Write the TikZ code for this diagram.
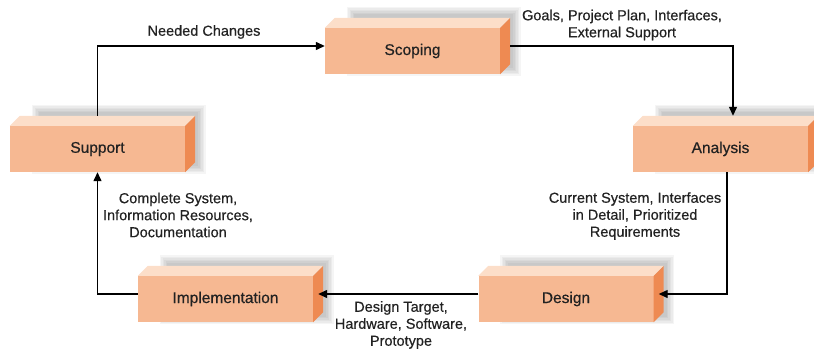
\documentclass[tikz,border=0pt]{standalone}
\usepackage{fontspec}
\setmainfont{Liberation Sans}[FakeBold=0.5]
\usetikzlibrary{arrows.meta,calc}
\definecolor{frontc}{HTML}{F6B892}
\definecolor{topc}{HTML}{FCDEC9}
\definecolor{sidec}{HTML}{EE8A52}
\definecolor{txt}{HTML}{222222}
\tikzset{
  face/.style={draw=none, fill=frontc, minimum width=175pt, minimum height=46pt,
    inner sep=0pt, font=\fontsize{15.5}{18}\selectfont, text=txt},
  lbl/.style={align=center, font=\fontsize{14.5}{17}\selectfont, text=txt, inner sep=0pt},
  conn/.style={line width=1.3pt, -{Triangle[length=9pt,width=8pt]}},
}
\newcommand\mkcube[4]{%
  \begin{scope}[shift={(#2,#3)}]
    \foreach \i in {0,...,5}
      \fill[black,opacity=0.04] (-66+\i*1.5,-44+\i*1.5) rectangle (108-\i*1.5,25-\i*1.5);
    \node[face] (#1) at (0,0) {#4};
    \fill[topc] (#1.north west) -- ++(10,-10) -- ($(#1.north east)+(10,-10)$) -- (#1.north east) -- cycle;
    \fill[sidec] (#1.north east) -- ++(10,-10) -- ($(#1.south east)+(10,-10)$) -- (#1.south east) -- cycle;
  \end{scope}}
\begin{document}
\begin{tikzpicture}[x=1pt,y=-1pt]
  \useasboundingbox (0,0) rectangle (814,350);
  \mkcube{sc}{412.5}{51}{Scoping}
  \mkcube{su}{97.5}{149}{Support}
  \mkcube{an}{720.5}{149}{Analysis}
  \mkcube{de}{566}{299}{Design}
  \mkcube{im}{225.5}{299}{Implementation}

  \draw[conn] ($(su.north)+(0,-10)$) |- ($(sc.west)+(0,-5)$);
  \draw[conn] ($(sc.east)+(10,-5)$) -| ($(an.north)+(12.5,-10)$);
  \draw[conn] ($(an.south)+(6.5,0)$) |- ($(de.east)+(5,-5)$);
  \draw[conn] ($(de.west)+(0,-5)$) -- ($(im.east)+(5,-5)$);
  \draw[conn] ($(im.west)+(0,-5)$) -| (su.south);

  \node[lbl] (l1) at (204,32) {Needed Changes};
  \node[lbl] (l2) at (622,25) {Goals, Project Plan, Interfaces,\\External Support};
  \node[lbl] (l3) at (635,216) {Current System, Interfaces\\in Detail, Prioritized\\Requirements};
  \node[lbl] (l4) at (401,325) {Design Target,\\Hardware, Software,\\Prototype};
  \node[lbl] (l5) at (178,215) {Complete System,\\Information Resources,\\Documentation};
\end{tikzpicture}
\end{document}
